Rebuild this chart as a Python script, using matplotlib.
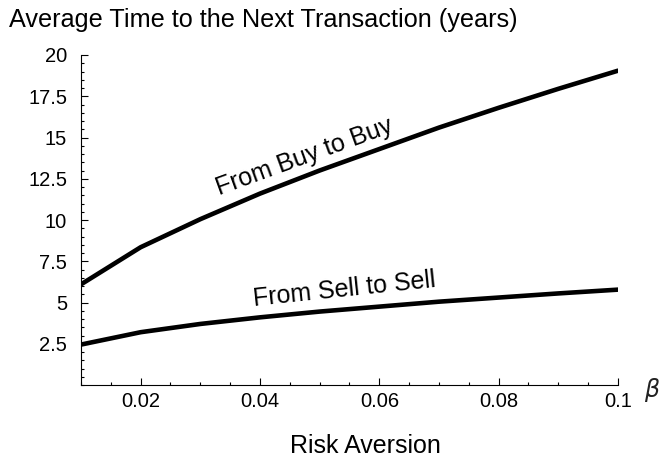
import matplotlib

matplotlib.use("Agg")

import matplotlib.pyplot as plt
from matplotlib.ticker import FixedLocator, MultipleLocator

plt.rcParams["font.family"] = ["Liberation Sans", "DejaVu Sans"]

beta = [0.01, 0.02, 0.03, 0.04, 0.05, 0.06, 0.07, 0.08, 0.09, 0.1]
buy_to_buy = [6.1, 8.35, 10.05, 11.6, 13.0, 14.3, 15.6, 16.8, 17.95, 19.05]
sell_to_sell = [2.45, 3.2, 3.7, 4.1, 4.45, 4.75, 5.05, 5.3, 5.55, 5.78]

x_ticks = [0.02, 0.04, 0.06, 0.08, 0.1]
x_tick_labels = ["0.02", "0.04", "0.06", "0.08", "0.1"]
y_ticks = [2.5, 5, 7.5, 10, 12.5, 15, 17.5, 20]
y_tick_labels = ["2.5", "5", "7.5", "10", "12.5", "15", "17.5", "20"]

W, H = 659, 458
fig = plt.figure(figsize=(W / 100, H / 100), dpi=100)
ax = fig.add_axes([81 / W, 1 - 385 / H, (618 - 81) / W, (385 - 55) / H])

ax.plot(beta, buy_to_buy, color="black", linewidth=3.3, solid_capstyle="round")
ax.plot(beta, sell_to_sell, color="black", linewidth=3.3, solid_capstyle="round")

ax.set_xlim(0.01, 0.1)
ax.set_ylim(0, 20)

for side in ("top", "right"):
    ax.spines[side].set_visible(False)
for side in ("left", "bottom"):
    ax.spines[side].set_linewidth(0.8)

ax.xaxis.set_major_locator(FixedLocator(x_ticks))
ax.set_xticklabels(x_tick_labels)
ax.xaxis.set_minor_locator(MultipleLocator(0.005))
ax.yaxis.set_major_locator(FixedLocator(y_ticks))
ax.set_yticklabels(y_tick_labels)
ax.yaxis.set_minor_locator(MultipleLocator(0.5))

ax.tick_params(which="both", direction="in", width=0.8, labelsize=14.5)
ax.tick_params(which="major", length=5)
ax.tick_params(which="minor", length=2.5)
ax.tick_params(axis="x", which="major", pad=5)
ax.tick_params(axis="y", which="major", pad=10)

ax.text(0.0474, 13.8, "From Buy to Buy", rotation=20, fontsize=18,
        ha="center", va="center", rotation_mode="anchor")
ax.text(0.0542, 5.79, "From Sell to Sell", rotation=6, fontsize=18,
        ha="center", va="center", rotation_mode="anchor")

fig.text(9 / W, 1 - 27 / H, "Average Time to the Next Transaction (years)",
         fontsize=18.2, ha="left", va="baseline")
fig.text(290 / W, 1 - 453 / H, "Risk Aversion", fontsize=18,
         ha="left", va="baseline")
fig.text(652 / W, 1 - 390 / H, r"$\beta$", fontsize=17,
         ha="center", va="center", color="#222222")

fig.savefig("out.png", dpi=100)
